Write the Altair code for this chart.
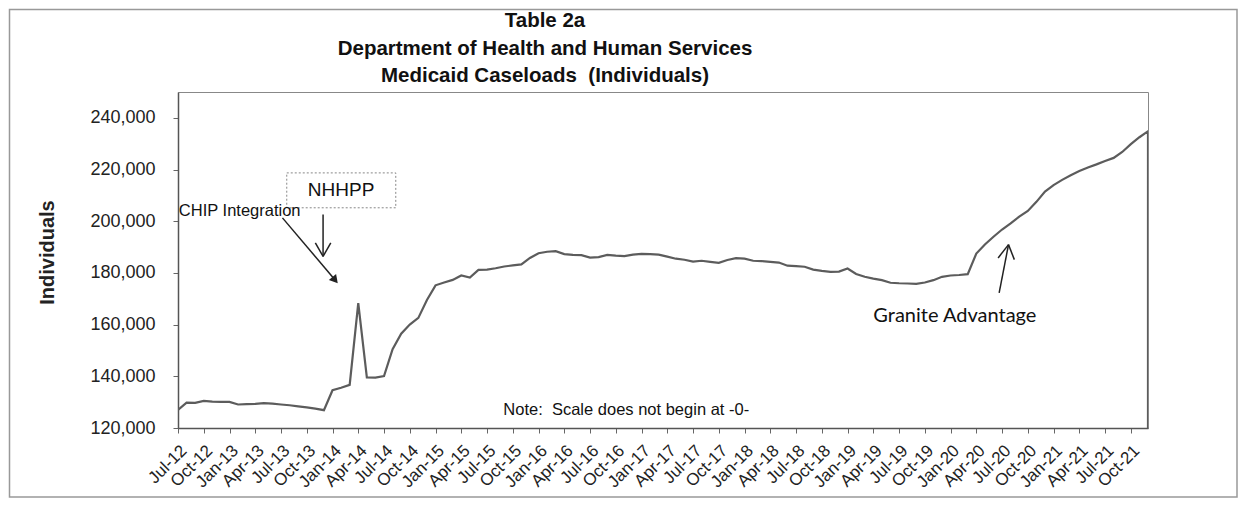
import json
import altair as alt
import pandas as pd

# Monthly Medicaid caseload (individuals), Jul-12 .. Dec-21
values = [
    127000, 129800, 129700, 130500, 130200, 130100,
    130100, 129100, 129200, 129300, 129600, 129400,
    129100, 128800, 128400, 128000, 127500, 126900,
    134600, 135600, 136700, 168300, 139600, 139500,
    140100, 150500, 156500, 160000, 162600, 169500,
    175200, 176300, 177300, 179000, 178200, 181200,
    181300, 181800, 182500, 182900, 183300, 185800,
    187600, 188200, 188400, 187300, 187000, 186900,
    185900, 186100, 187000, 186700, 186500, 187100,
    187400, 187300, 187100, 186300, 185500, 185100,
    184400, 184700, 184300, 183900, 185000, 185700,
    185500, 184700, 184600, 184300, 184000, 182800,
    182600, 182400, 181300, 180800, 180400, 180500,
    181700, 179600, 178500, 177800, 177200, 176200,
    176000, 175900, 175800, 176300, 177200, 178500,
    179000, 179200, 179500, 187500, 191000, 194000,
    196800, 199200, 201800, 204000, 207500, 211500,
    214000, 216000, 217800, 219400, 220800, 222000,
    223300, 224500, 226800, 229800, 232500, 234800,
]
# the series ends with an empty (zero) entry plotted in the last month slot
trailing_value = 0

months = list(pd.date_range("2012-07-01", periods=len(values), freq="MS").strftime("%b-%y"))
tick_idx = list(range(0, len(values), 3))
y_ticks = [120000, 140000, 160000, 180000, 200000, 220000, 240000]
title_lines = ["Table 2a", "Department of Health and Human Services",
               "Medicaid Caseloads\u00a0 (Individuals)"]

N = len(values)
df = pd.DataFrame({"idx": list(range(N)) + [N - 1],
                   "value": values + [trailing_value],
                   "seq": list(range(N + 1))})

FONT = "Liberation Sans"

def X(field="idx"):
    return alt.X(f"{field}:Q",
                 scale=alt.Scale(domain=[0, N - 1], nice=False, zero=False),
                 axis=alt.Axis(values=tick_idx,
                               labelExpr=f"{json.dumps(months)}[datum.value]",
                               labelAngle=-45, labelAlign="right", labelBaseline="top",
                               labelFontSize=17, labelFont=FONT, labelColor="#222",
                               labelPadding=9, tickSize=5, tickColor="#666",
                               domainColor="#555", domainWidth=1.5, grid=False,
                               title=None, labelOverlap=False),
                 title=None)

def Y(field="value"):
    return alt.Y(f"{field}:Q",
                 scale=alt.Scale(domain=[120000, 250000], nice=False, zero=False),
                 axis=alt.Axis(values=y_ticks, format=",d", labelFontSize=18,
                               labelFont=FONT, labelColor="#222", labelPadding=18,
                               tickSize=5, tickColor="#666", domainColor="#555",
                               domainWidth=1.5, grid=False,
                               title="Individuals", titleFont=FONT, titleFontSize=20,
                               titleFontWeight="bold", titleColor="#222",
                               titleX=-131, titleY=160, titleAngle=-90,
                               titleAlign="center", titleBaseline="middle"),
                 title="Individuals")

one = pd.DataFrame({"a": [0]})

frame = alt.Chart(one).mark_rect(
    fill="white", fillOpacity=0, stroke="#999", strokeWidth=1.5
).encode(x=alt.value(-168.5), x2=alt.value(1059), y=alt.value(-82.5), y2=alt.value(405))

# chart title (three centred lines)
title_marks = []
for i, t in enumerate(title_lines):
    title_marks.append(alt.Chart(one).mark_text(
        text=t, font=FONT, fontSize=20.5, fontWeight="bold", color="#111",
        align="center", baseline="middle"
    ).encode(x=alt.value(367), y=alt.value(-70.6 + 27.3 * i)))

line = alt.Chart(df).mark_line(color="#5c5c5c", strokeWidth=2.2, clip=True).encode(
    x=X(), y=Y(), order=alt.Order("seq:Q"))

# NHHPP box + label
box_df = pd.DataFrame({"idx": [12.67], "idx2": [25.37], "value": [218700], "value2": [205200]})
box = alt.Chart(box_df).mark_rect(fill="white", stroke="#888", strokeDash=[2, 2],
                                  strokeWidth=1).encode(
    x=X(), x2="idx2:Q", y=Y(), y2="value2:Q")

text_df = pd.DataFrame({
    "idx": [19.0, 0.1, 37.9, 81.0],
    "value": [211900, 203900, 127100, 163500],
    "label": ["NHHPP", "CHIP Integration", "Note:\u00a0 Scale does not begin at -0-", "Granite Advantage"],
    "size": [19, 16.5, 16.5, 20],
    "align": ["center", "left", "left", "left"],
    "font": [FONT, FONT, FONT, "Lato"],
})
texts = []
for _, r in text_df.iterrows():
    texts.append(alt.Chart(pd.DataFrame([r])).mark_text(
        align=r["align"], baseline="middle", fontSize=float(r["size"]), font=r["font"],
        color="#111").encode(x=X(), y=Y(), text="label:N"))

# arrow shafts and open heads
seg_df = pd.DataFrame({
    "idx":    [12.17, 16.9, 16.0, 17.8, 95.66, 95.54, 97.43],
    "value":  [201300, 202600, 191600, 191600, 172260, 185800, 185150],
    "idx2":   [18.45, 16.9, 16.9, 16.9, 96.75, 96.75, 96.75],
    "value2": [176700, 186400, 186400, 186400, 190950, 190950, 190950],
})
segs = alt.Chart(seg_df).mark_rule(color="#222", strokeWidth=1.5).encode(
    x=X(), x2="idx2:Q", y=Y(), y2="value2:Q")

head_df = pd.DataFrame({"idx": [18.2], "value": [177600]})
head = alt.Chart(head_df).mark_point(shape="triangle", filled=True, size=90, angle=140,
                                     color="#222", opacity=1).encode(x=X(), y=Y())

chart = alt.layer(frame, *title_marks, line, box, *texts, segs, head).properties(
    width=970, height=336,
    autosize=alt.AutoSizeParams(type="none"),
    padding={"left": 170, "top": 84, "right": 90, "bottom": 70},
).configure_view(stroke="#888", strokeWidth=1)

chart.save("out.html", embed_options={"renderer": "svg", "actions": False})
